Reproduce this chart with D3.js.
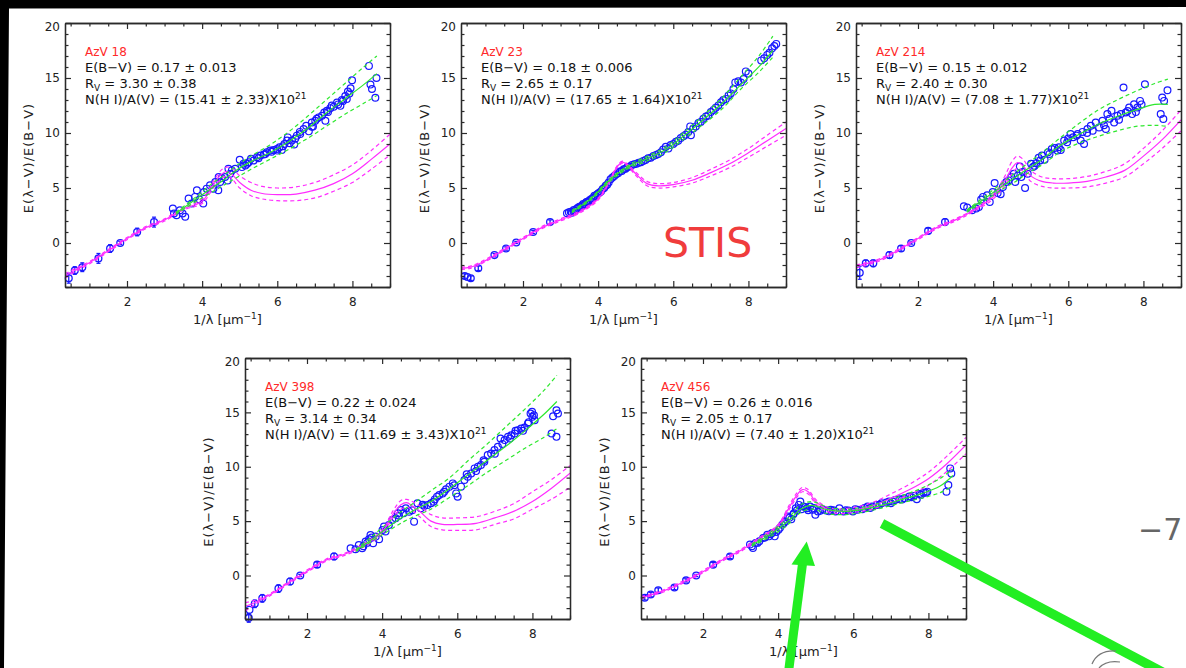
<!DOCTYPE html>
<html><head><meta charset="utf-8">
<script src="https://cdn.jsdelivr.net/npm/d3@7/dist/d3.min.js"></script>
<style>
html,body{margin:0;padding:0;background:#fff;overflow:hidden;}
svg{display:block;}
text{font-family:"DejaVu Sans","Liberation Sans",sans-serif;}
</style></head><body>
<svg id="chart" width="1186" height="668"></svg>
<script>
// ================= DATA =================
const stars   = ["AzV 18", "AzV 23", "AzV 214", "AzV 398", "AzV 456"];
const ebvText = ["0.17 ± 0.013", "0.18 ± 0.006", "0.15 ± 0.012", "0.22 ± 0.024", "0.26 ± 0.016"];
const rvText  = ["3.30 ± 0.38", "2.65 ± 0.17", "2.40 ± 0.30", "3.14 ± 0.34", "2.05 ± 0.17"];
const nhText  = ["15.41 ± 2.33", "17.65 ± 1.64", "7.08 ± 1.77", "11.69 ± 3.43", "7.40 ± 1.20"];
const xTicks = [2, 4, 6, 8];
const yTicks = [0, 5, 10, 15, 20];
const xDomain = [0.35, 9.0];
const yDomain = [-4, 20];

// optical / IR photometric points (x in 1/micron)
const bandX = [0.45, 0.61, 0.81, 1.24, 1.55, 1.82, 2.27, 2.72];
const bandY_AzV18  = [-3.2, -2.5, -2.2, -1.4, -0.5, 0.0, 1.0, 1.9];
const bandE_AzV18  = [0.45, 0.35, 0.4, 0.45, 0.35, 0.15, 0.35, 0.45];
const bandY_AzV23  = [-3.0, -3.2, -2.3, -1.1, -0.5, 0.05, 1.0, 1.9];
const bandE_AzV23  = [0.2, 0.2, 0.2, 0.15, 0.15, 0.1, 0.15, 0.2];
const bandY_AzV214 = [-2.7, -1.85, -1.85, -1.1, -0.5, 0.0, 1.1, 1.9];
const bandE_AzV214 = [0.6, 0.3, 0.3, 0.3, 0.25, 0.1, 0.25, 0.3];
const bandY_AzV398 = [-3.9, -2.6, -2.1, -1.2, -0.55, 0.0, 1.0, 1.75];
const bandE_AzV398 = [0.4, 0.35, 0.35, 0.35, 0.3, 0.1, 0.25, 0.3];
const bandY_AzV456 = [-2.05, -1.75, -1.35, -1.1, -0.45, 0.0, 1.0, 1.75];
const bandE_AzV456 = [0.2, 0.2, 0.2, 0.2, 0.15, 0.1, 0.2, 0.2];

// UV spectrophotometry points [x, y]
const uv_AzV18 = [[3.22,3.13],[3.25,2.68],[3.32,2.53],[3.41,2.98],[3.48,2.68],[3.55,2.38],[3.64,4.04],[3.72,3.58],[3.81,4.19],[3.86,4.79],[3.93,3.95],[4.03,3.59],[4.05,4.64],[4.12,4.94],[4.21,5.24],[4.30,4.94],[4.35,5.54],[4.43,4.79],[4.44,5.99],[4.48,5.54],[4.52,5.90],[4.61,5.99],[4.68,5.69],[4.70,6.75],[4.75,6.30],[4.79,6.60],[4.88,6.75],[5.00,7.56],[5.06,6.90],[5.10,7.20],[5.15,7.05],[5.20,7.20],[5.24,7.35],[5.30,7.65],[5.37,7.50],[5.46,7.80],[5.50,7.70],[5.55,7.95],[5.64,8.04],[5.68,8.10],[5.72,8.25],[5.81,8.40],[5.85,8.30],[5.90,8.46],[5.99,8.55],[6.00,8.40],[6.06,8.70],[6.12,8.46],[6.15,8.80],[6.19,9.00],[6.26,9.31],[6.28,9.60],[6.33,9.07],[6.39,9.31],[6.45,8.95],[6.48,9.50],[6.52,9.76],[6.60,10.10],[6.61,9.91],[6.70,10.36],[6.77,10.66],[6.84,10.15],[6.92,10.96],[6.92,10.57],[6.95,10.60],[7.01,11.11],[7.05,11.30],[7.10,11.42],[7.19,11.57],[7.25,11.87],[7.28,11.11],[7.32,12.02],[7.35,11.90],[7.41,12.26],[7.45,12.50],[7.50,12.38],[7.59,12.77],[7.62,12.60],[7.68,12.47],[7.72,13.00],[7.75,12.92],[7.81,13.37],[7.85,13.10],[7.88,13.77],[7.92,13.60],[7.95,14.07],[7.99,14.79],[8.44,16.10],[8.48,14.40],[8.52,14.00],[8.61,13.20],[8.64,15.00]];
const uv_AzV23 = [[0.52,-3.1],[3.17,2.7],[3.22,2.8],[3.27,2.85],[3.30,2.75],[3.35,3.0],[3.38,2.9],[3.42,3.1],[3.46,3.2],[3.50,3.3],[3.53,3.25],[3.57,3.4],[3.60,3.55],[3.64,3.5],[3.68,3.7],[3.71,3.75],[3.75,3.8],[3.78,3.9],[3.82,4.0],[3.86,4.1],[3.90,4.3],[3.93,4.25],[3.97,4.4],[4.00,4.5],[4.04,4.6],[4.08,4.7],[4.12,4.9],[4.16,5.0],[4.20,5.2],[4.24,5.3],[4.28,5.5],[4.33,5.8],[4.38,5.95],[4.43,6.1],[4.48,6.25],[4.53,6.35],[4.58,6.5],[4.63,6.55],[4.68,6.7],[4.73,6.75],[4.78,6.9],[4.84,6.95],[4.90,7.1],[4.96,7.15],[5.02,7.2],[5.08,7.3],[5.14,7.35],[5.20,7.45],[5.26,7.55],[5.33,7.7],[5.40,7.75],[5.47,7.9],[5.54,8.0],[5.60,8.1],[5.67,8.25],[5.73,8.5],[5.80,8.75],[5.87,8.6],[5.93,8.9],[6.00,9.0],[6.07,9.2],[6.13,9.3],[6.20,9.55],[6.27,9.7],[6.33,9.85],[6.40,10.1],[6.45,10.6],[6.47,9.8],[6.53,10.4],[6.60,10.6],[6.67,10.9],[6.73,11.0],[6.80,11.3],[6.87,11.5],[6.93,11.6],[7.00,11.9],[7.07,12.1],[7.13,12.3],[7.20,12.5],[7.27,12.8],[7.33,13.0],[7.40,13.1],[7.47,13.4],[7.53,13.6],[7.60,14.0],[7.65,14.6],[7.73,14.7],[7.80,14.6],[7.87,14.9],[7.93,15.6],[8.00,15.4],[8.34,16.6],[8.42,16.8],[8.50,17.1],[8.56,17.3],[8.63,17.7],[8.69,17.9],[8.74,18.1]];
const uv_AzV214 = [[3.22,3.34],[3.31,3.22],[3.44,2.98],[3.55,3.13],[3.62,3.28],[3.68,3.95],[3.73,4.19],[3.84,4.34],[3.91,3.73],[3.99,4.64],[4.04,5.45],[4.12,4.55],[4.20,4.43],[4.26,5.09],[4.35,5.54],[4.41,5.69],[4.48,5.99],[4.55,6.30],[4.59,5.54],[4.66,6.14],[4.71,6.96],[4.75,5.99],[4.79,6.45],[4.85,5.00],[4.92,6.30],[5.01,7.20],[5.06,6.90],[5.10,7.00],[5.15,7.26],[5.21,7.74],[5.25,7.50],[5.30,7.95],[5.37,7.56],[5.46,8.25],[5.50,8.10],[5.56,8.55],[5.64,8.64],[5.71,8.40],[5.75,8.70],[5.80,8.46],[5.89,9.31],[5.97,9.16],[6.00,9.50],[6.06,9.91],[6.13,9.61],[6.22,9.76],[6.25,9.90],[6.33,9.31],[6.38,10.10],[6.42,9.00],[6.50,10.00],[6.51,10.36],[6.60,10.66],[6.65,10.20],[6.73,10.96],[6.82,10.51],[6.91,11.11],[6.95,10.70],[7.00,10.36],[7.04,11.72],[7.10,11.30],[7.15,12.02],[7.22,10.96],[7.31,11.57],[7.35,11.20],[7.40,11.72],[7.47,14.13],[7.53,11.87],[7.58,12.00],[7.62,12.32],[7.70,11.72],[7.75,12.62],[7.80,11.90],[7.84,12.32],[7.91,12.92],[7.95,12.60],[8.04,14.43],[8.46,11.72],[8.50,13.22],[8.53,11.27],[8.55,12.92],[8.64,13.89]];
const uv_AzV398 = [[0.47,-3.15],[3.16,2.51],[3.29,2.42],[3.38,2.81],[3.47,2.51],[3.50,2.70],[3.56,3.12],[3.60,3.00],[3.65,3.33],[3.69,3.73],[3.72,3.50],[3.76,2.97],[3.83,3.58],[3.92,3.33],[4.01,4.19],[4.05,4.50],[4.09,4.04],[4.18,4.65],[4.27,5.11],[4.36,5.26],[4.42,5.72],[4.45,5.50],[4.50,6.02],[4.57,5.72],[4.63,6.18],[4.72,5.87],[4.80,6.00],[4.85,4.95],[4.94,6.64],[5.03,6.18],[5.08,6.50],[5.12,6.39],[5.21,6.48],[5.30,6.64],[5.37,6.79],[5.40,7.00],[5.46,7.25],[5.52,7.40],[5.61,7.55],[5.65,7.70],[5.70,7.92],[5.79,8.17],[5.88,8.47],[5.92,8.30],[5.97,7.55],[6.01,7.25],[6.10,8.17],[6.19,8.78],[6.25,9.30],[6.28,9.08],[6.37,9.39],[6.46,9.85],[6.50,9.60],[6.55,10.00],[6.63,10.15],[6.70,10.60],[6.72,10.46],[6.81,11.07],[6.90,11.22],[6.99,11.53],[7.00,11.20],[7.08,11.83],[7.15,12.60],[7.20,12.10],[7.26,12.45],[7.35,12.75],[7.40,12.60],[7.44,12.90],[7.53,13.06],[7.55,13.30],[7.61,13.36],[7.70,13.52],[7.75,13.30],[7.79,13.60],[7.88,13.98],[7.90,14.10],[7.95,14.90],[7.99,15.05],[8.00,14.60],[8.04,14.74],[8.06,14.28],[8.51,13.06],[8.55,14.65],[8.64,15.20],[8.64,12.75],[8.68,14.90]];
const uv_AzV456 = [[3.25,2.84],[3.30,2.70],[3.33,2.53],[3.40,2.99],[3.45,3.00],[3.50,3.14],[3.60,3.45],[3.65,3.50],[3.71,3.75],[3.76,3.60],[3.80,3.80],[3.84,3.90],[3.91,3.60],[3.95,4.00],[4.01,4.21],[4.05,4.40],[4.11,4.66],[4.15,4.80],[4.18,4.97],[4.26,5.43],[4.30,5.30],[4.35,5.18],[4.40,5.60],[4.42,5.73],[4.47,6.19],[4.50,6.00],[4.55,6.49],[4.59,6.80],[4.62,6.10],[4.67,6.34],[4.72,6.30],[4.77,6.19],[4.80,6.00],[4.85,6.34],[4.92,6.04],[4.95,6.20],[4.99,5.58],[5.06,5.88],[5.12,5.95],[5.18,6.10],[5.28,5.98],[5.35,5.90],[5.40,6.04],[5.47,6.00],[5.53,5.88],[5.63,6.19],[5.74,5.88],[5.80,6.00],[5.87,5.98],[5.99,5.88],[6.05,6.10],[6.11,6.04],[6.24,6.10],[6.30,6.20],[6.38,6.34],[6.45,6.20],[6.50,6.34],[6.62,6.49],[6.70,6.50],[6.75,6.65],[6.88,6.71],[6.95,6.80],[7.00,6.65],[7.05,6.80],[7.11,6.95],[7.23,7.01],[7.30,7.00],[7.36,7.10],[7.49,7.26],[7.55,7.20],[7.61,7.32],[7.69,7.01],[7.77,7.50],[7.80,7.40],[7.87,7.62],[7.93,7.60],[7.97,7.71],[8.48,7.71],[8.53,8.32],[8.58,9.85],[8.61,9.39]];

// model / average curve (magenta), sampled at magX
const magX = [0.35, 0.6, 1.0, 1.5, 2.0, 2.5, 3.0, 3.5, 4.0, 4.3, 4.5, 4.65, 4.8, 5.0, 5.3, 5.6, 6.0, 6.5, 7.0, 7.5, 8.0, 8.5, 9.0];
const mag_AzV18    = [-3.0,-2.5,-1.8,-0.7,0.4,1.4,2.1,3.1,3.8,5.3,6.2,6.5,6.2,5.5,4.8,4.5,4.4,4.45,4.8,5.4,6.3,7.6,9.0];
const magHi_AzV18  = [-2.8,-2.35,-1.7,-0.6,0.5,1.5,2.2,3.2,4.0,5.6,6.6,6.9,6.8,6.1,5.5,5.15,5.0,5.1,5.5,6.2,7.1,8.4,9.9];
const magLo_AzV18  = [-3.2,-2.65,-1.9,-0.8,0.3,1.3,2.0,3.0,3.6,5.0,5.8,6.1,5.8,5.0,4.3,4.0,3.85,3.85,4.1,4.7,5.5,6.7,8.0];
const mag_AzV23    = [-2.3,-2.2,-1.6,-0.6,0.4,1.4,2.1,2.8,4.0,5.6,6.9,7.35,7.0,6.3,5.4,5.2,5.3,5.7,6.4,7.2,8.2,9.3,10.4];
const magHi_AzV23  = [-2.2,-2.1,-1.5,-0.5,0.5,1.5,2.2,2.9,4.1,5.7,7.0,7.45,7.1,6.45,5.6,5.4,5.5,5.95,6.7,7.55,8.6,9.8,11.0];
const magLo_AzV23  = [-2.4,-2.3,-1.7,-0.7,0.3,1.3,2.0,2.7,3.9,5.5,6.8,7.25,6.9,6.15,5.2,5.0,5.1,5.45,6.1,6.85,7.8,8.8,9.8];
const mag_AzV214   = [-2.1,-1.9,-1.5,-0.6,0.4,1.4,2.1,3.0,4.2,5.6,6.8,7.3,7.0,6.1,5.6,5.45,5.45,5.6,6.0,6.6,7.9,9.4,11.2];
const magHi_AzV214 = [-2.0,-1.8,-1.4,-0.5,0.5,1.5,2.2,3.1,4.4,6.0,7.4,7.9,7.6,6.6,6.0,5.85,5.85,6.05,6.5,7.2,8.6,10.2,12.1];
const magLo_AzV214 = [-2.25,-2.05,-1.6,-0.7,0.3,1.3,2.0,2.9,4.0,5.2,6.3,6.8,6.5,5.6,5.15,5.0,5.0,5.1,5.45,6.0,7.2,8.6,10.2];
const mag_AzV398   = [-2.85,-2.5,-1.8,-0.7,0.4,1.4,1.95,2.75,4.0,5.7,6.5,6.7,6.4,5.9,5.0,4.7,4.7,4.8,5.3,5.9,6.8,8.0,9.4];
const magHi_AzV398 = [-2.5,-2.3,-1.7,-0.6,0.5,1.5,2.05,2.9,4.2,6.0,6.9,7.0,6.8,6.4,5.6,5.3,5.3,5.4,5.9,6.6,7.7,8.8,10.1];
const magLo_AzV398 = [-3.3,-2.7,-1.9,-0.8,0.3,1.3,1.85,2.6,3.8,5.4,6.1,6.3,6.0,5.4,4.5,4.2,4.15,4.2,4.7,5.2,6.1,7.0,8.1];
const mag_AzV456   = [-2.05,-1.8,-1.35,-0.55,0.35,1.4,2.3,3.4,4.6,6.3,7.4,7.9,7.7,6.8,6.1,5.9,6.0,6.4,7.1,7.9,8.9,10.3,12.0];
const magHi_AzV456 = [-1.95,-1.7,-1.25,-0.45,0.45,1.5,2.4,3.5,4.7,6.5,7.6,8.1,7.9,7.0,6.3,6.1,6.25,6.7,7.5,8.4,9.5,11.0,12.7];
const magLo_AzV456 = [-2.15,-1.9,-1.45,-0.65,0.25,1.3,2.2,3.3,4.5,6.1,7.2,7.7,7.5,6.6,5.9,5.7,5.8,6.1,6.75,7.45,8.3,9.6,11.2];

// UV fit (green) with its uncertainty envelope, sampled at fitX
const fitX = [3.3, 3.8, 4.3, 4.6, 4.9, 5.3, 5.8, 6.3, 6.8, 7.3, 7.8, 8.3, 8.65];
const fit_AzV18    = [2.7,3.9,5.1,5.8,6.6,7.4,8.2,9.2,10.4,11.8,13.1,14.4,15.4];
const fitHi_AzV18  = [2.8,4.1,5.5,6.2,7.0,7.9,8.9,10.1,11.5,13.0,14.5,16.0,17.0];
const fitLo_AzV18  = [2.6,3.7,4.7,5.3,5.9,6.7,7.6,8.5,9.5,10.6,11.7,12.7,13.4];
const fit_AzV23    = [2.85,4.0,5.7,6.5,7.1,7.65,8.5,9.8,11.2,12.7,14.4,16.1,17.5];
const fitHi_AzV23  = [2.95,4.1,5.8,6.6,7.25,7.85,8.75,10.1,11.6,13.2,15.1,17.1,18.8];
const fitLo_AzV23  = [2.75,3.9,5.55,6.35,6.95,7.45,8.25,9.5,10.8,12.2,14.0,15.6,16.9];
const fit_AzV214   = [2.9,4.1,5.3,6.0,6.7,7.6,8.9,9.9,10.8,11.5,12.1,12.6,12.6];
const fitHi_AzV214 = [3.0,4.3,5.6,6.4,7.2,8.2,9.6,10.9,12.1,13.0,13.8,14.5,14.9];
const fitLo_AzV214 = [2.8,3.9,5.0,5.6,6.3,7.1,8.3,9.1,9.7,10.2,10.6,10.7,10.6];
const fit_AzV398   = [2.3,3.5,4.8,5.5,6.1,6.8,8.0,9.3,10.6,11.9,13.3,14.8,16.0];
const fitHi_AzV398 = [2.4,3.8,5.3,6.1,6.8,7.8,9.0,10.6,12.1,13.7,15.3,17.0,18.4];
const fitLo_AzV398 = [2.2,3.3,4.4,5.0,5.5,6.1,7.2,8.3,9.5,10.6,11.7,12.7,13.5];
const fit_AzV456   = [2.8,3.8,5.1,6.1,6.45,6.05,5.9,6.1,6.5,7.0,7.5,8.2,9.2];
const fitHi_AzV456 = [2.9,4.0,5.4,6.5,6.8,6.3,6.1,6.3,6.75,7.35,8.0,8.9,9.8];
const fitLo_AzV456 = [2.7,3.6,4.8,5.8,6.1,5.7,5.6,5.85,6.25,6.7,7.1,7.6,8.2];

// ================= LAYOUT =================
const layout = [
  {left: 65,  top: 23,  w: 325, h: 264},
  {left: 461, top: 23,  w: 325, h: 264},
  {left: 856, top: 23,  w: 325, h: 264},
  {left: 245, top: 358, w: 325, h: 261},
  {left: 641, top: 358, w: 325, h: 261}
];
const panelData = [
  {bY: bandY_AzV18,  bE: bandE_AzV18,  uv: uv_AzV18,  m: mag_AzV18,  mH: magHi_AzV18,  mL: magLo_AzV18,  f: fit_AzV18,  fH: fitHi_AzV18,  fL: fitLo_AzV18},
  {bY: bandY_AzV23,  bE: bandE_AzV23,  uv: uv_AzV23,  m: mag_AzV23,  mH: magHi_AzV23,  mL: magLo_AzV23,  f: fit_AzV23,  fH: fitHi_AzV23,  fL: fitLo_AzV23},
  {bY: bandY_AzV214, bE: bandE_AzV214, uv: uv_AzV214, m: mag_AzV214, mH: magHi_AzV214, mL: magLo_AzV214, f: fit_AzV214, fH: fitHi_AzV214, fL: fitLo_AzV214},
  {bY: bandY_AzV398, bE: bandE_AzV398, uv: uv_AzV398, m: mag_AzV398, mH: magHi_AzV398, mL: magLo_AzV398, f: fit_AzV398, fH: fitHi_AzV398, fL: fitLo_AzV398},
  {bY: bandY_AzV456, bE: bandE_AzV456, uv: uv_AzV456, m: mag_AzV456, mH: magHi_AzV456, mL: magLo_AzV456, f: fit_AzV456, fH: fitHi_AzV456, fL: fitLo_AzV456}
];

const BLUE = "#1818ff", GREEN = "#2ee82e", MAGENTA = "#ff2cff", AXIS = "#2a2a2a";
const svg = d3.select("#chart");
const defs = svg.append("defs");

// black screen border (top / left)
svg.append("path").attr("d", "M0,0H1186V7L9,8.5L4,668H0Z").attr("fill", "#000");

const xMinor = d3.range(0.5, 9.01, 0.5).filter(v => v % 2 !== 0);
const yMinor = d3.range(-4, 20.01, 1).filter(v => v % 5 !== 0);

layout.forEach((L, i) => {
  const d = panelData[i];
  const g = svg.append("g");
  const x = d3.scaleLinear().domain(xDomain).range([L.left, L.left + L.w]);
  const y = d3.scaleLinear().domain(yDomain).range([L.top + L.h, L.top]);
  const cid = "clip" + i;
  defs.append("clipPath").attr("id", cid).append("rect")
    .attr("x", L.left).attr("y", L.top).attr("width", L.w).attr("height", L.h);

  const line = d3.line().x(p => x(p[0])).y(p => y(p[1])).curve(d3.curveCatmullRom.alpha(0.5));
  const magPts = a => magX.map((v, k) => [v, a[k]]);
  const fitPts = a => fitX.map((v, k) => [v, a[k]]);

  // points
  const pts = g.append("g");
  d.bY.forEach((v, k) => {
    const cx = x(bandX[k]);
    pts.append("line").attr("x1", cx).attr("x2", cx)
      .attr("y1", y(v - d.bE[k])).attr("y2", y(v + d.bE[k]))
      .attr("stroke", BLUE).attr("stroke-width", 1.3);
    [v - d.bE[k], v + d.bE[k]].forEach(e => pts.append("line")
      .attr("x1", cx - 2).attr("x2", cx + 2).attr("y1", y(e)).attr("y2", y(e))
      .attr("stroke", BLUE).attr("stroke-width", 1.2));
  });
  pts.selectAll("circle.b").data(d.bY).join("circle")
    .attr("cx", (v, k) => x(bandX[k])).attr("cy", v => y(v)).attr("r", 3.4)
    .attr("fill", "none").attr("stroke", BLUE).attr("stroke-width", 1.3);
  pts.selectAll("circle.u").data(d.uv).enter().append("circle")
    .attr("cx", p => x(p[0])).attr("cy", p => y(p[1])).attr("r", 3.4)
    .attr("fill", "none").attr("stroke", BLUE).attr("stroke-width", 1.2);

  // curves
  const curves = g.append("g").attr("clip-path", `url(#${cid})`);
  [[d.mH, "4,3"], [d.mL, "4,3"], [d.m, null]].forEach(([a, dash]) => {
    curves.append("path").attr("d", line(magPts(a))).attr("fill", "none")
      .attr("stroke", MAGENTA).attr("stroke-width", 1.2)
      .attr("stroke-dasharray", dash);
  });
  const fitG = g.append("g").attr("clip-path", `url(#${cid})`);
  [[d.fH, "4,3"], [d.fL, "4,3"], [d.f, null]].forEach(([a, dash]) => {
    fitG.append("path").attr("d", line(fitPts(a))).attr("fill", "none")
      .attr("stroke", GREEN).attr("stroke-width", 1.2)
      .attr("stroke-dasharray", dash);
  });

  // axes
  const addAxis = (gen, tx, ty) => g.append("g").attr("transform", `translate(${tx},${ty})`).call(gen);
  const bottom = L.top + L.h, right = L.left + L.w;
  addAxis(d3.axisBottom(x).tickValues(xTicks).tickSizeInner(-6).tickSizeOuter(0).tickPadding(10).tickFormat(d3.format("d")), 0, bottom).attr("class", "lab");
  addAxis(d3.axisBottom(x).tickValues(xMinor).tickSizeInner(-3.5).tickSizeOuter(0).tickFormat(""), 0, bottom);
  addAxis(d3.axisTop(x).tickValues(xTicks).tickSizeInner(-6).tickSizeOuter(0).tickFormat(""), 0, L.top);
  addAxis(d3.axisTop(x).tickValues(xMinor).tickSizeInner(-3.5).tickSizeOuter(0).tickFormat(""), 0, L.top);
  const yl = addAxis(d3.axisLeft(y).tickValues(yTicks).tickSizeInner(-6).tickSizeOuter(0).tickPadding(5).tickFormat(d3.format("d")), L.left, 0).attr("class", "lab");
  addAxis(d3.axisLeft(y).tickValues(yMinor).tickSizeInner(-3.5).tickSizeOuter(0).tickFormat(""), L.left, 0);
  addAxis(d3.axisRight(y).tickValues(yTicks).tickSizeInner(-6).tickSizeOuter(0).tickFormat(""), right, 0);
  addAxis(d3.axisRight(y).tickValues(yMinor).tickSizeInner(-3.5).tickSizeOuter(0).tickFormat(""), right, 0);
  yl.selectAll(".tick").filter(t => t === 20).select("text").attr("y", 4);
  g.selectAll(".domain").attr("stroke", AXIS).attr("stroke-width", 1.3);
  g.selectAll(".tick line").attr("stroke", AXIS).attr("stroke-width", 1.2);
  g.selectAll(".lab .tick text").attr("font-size", 12).attr("fill", "#222")
    .attr("font-family", "DejaVu Sans, sans-serif");

  // axis titles
  const xt = g.append("text").attr("x", L.left + L.w / 2).attr("y", bottom + 37)
    .attr("text-anchor", "middle").attr("font-size", 13).attr("fill", "#222");
  xt.append("tspan").text("1/λ [μm");
  xt.append("tspan").attr("dy", -5).attr("font-size", 9).text("−1");
  xt.append("tspan").attr("dy", 5).text("]");
  g.append("text").attr("transform", `translate(${L.left - 32},${L.top + L.h / 2 + 3}) rotate(-90)`)
    .attr("text-anchor", "middle").attr("font-size", 13).attr("letter-spacing", 1).attr("fill", "#222")
    .text("E(λ−V)/E(B−V)");

  // legend text
  const tx = L.left + 20;
  g.append("text").attr("x", tx).attr("y", L.top + 33).attr("font-size", 12).attr("fill", "#ff2a2a").text(stars[i]);
  g.append("text").attr("x", tx).attr("y", L.top + 49).attr("font-size", 13).attr("fill", "#111")
    .text("E(B−V) = " + ebvText[i]);
  const rv = g.append("text").attr("x", tx).attr("y", L.top + 65).attr("font-size", 13).attr("fill", "#111");
  rv.append("tspan").text("R");
  rv.append("tspan").attr("dy", 3).attr("font-size", 9).text("V");
  rv.append("tspan").attr("dy", -3).text(" = " + rvText[i]);
  const nh = g.append("text").attr("x", tx).attr("y", L.top + 81).attr("font-size", 13).attr("fill", "#111");
  nh.append("tspan").text("N(H I)/A(V) = (" + nhText[i] + ")X10");
  nh.append("tspan").attr("dy", -5).attr("font-size", 9).text("21");
});

// STIS label on AzV 23 panel
svg.append("text").attr("x", 663).attr("y", 257).attr("font-family", "Liberation Sans, Arial, sans-serif")
  .attr("font-size", 41).attr("fill", "#f03c3c").text("STIS");

// slide overlay: green arrow & pointer line, partial equation glyphs
const ANN = "#22ee22";
svg.append("line").attr("x1", 788.5).attr("y1", 672).attr("x2", 803).attr("y2", 560)
  .attr("stroke", ANN).attr("stroke-width", 9);
svg.append("path").attr("d", "M806.7,541.5L791.5,564.5L815,566Z").attr("fill", ANN);
svg.append("line").attr("x1", 882).attr("y1", 523.5).attr("x2", 1200).attr("y2", 692)
  .attr("stroke", ANN).attr("stroke-width", 9.5);
svg.append("text").attr("x", 1138).attr("y", 540).attr("font-family", "Liberation Serif, serif")
  .attr("font-size", 30).attr("fill", "#666").text("−7");
svg.append("path").attr("d", "M1092,664 Q1098,650 1116,651 M1099,668 Q1106,660 1120,662")
  .attr("fill", "none").attr("stroke", "#777").attr("stroke-width", 1.2);
</script>
</body></html>
